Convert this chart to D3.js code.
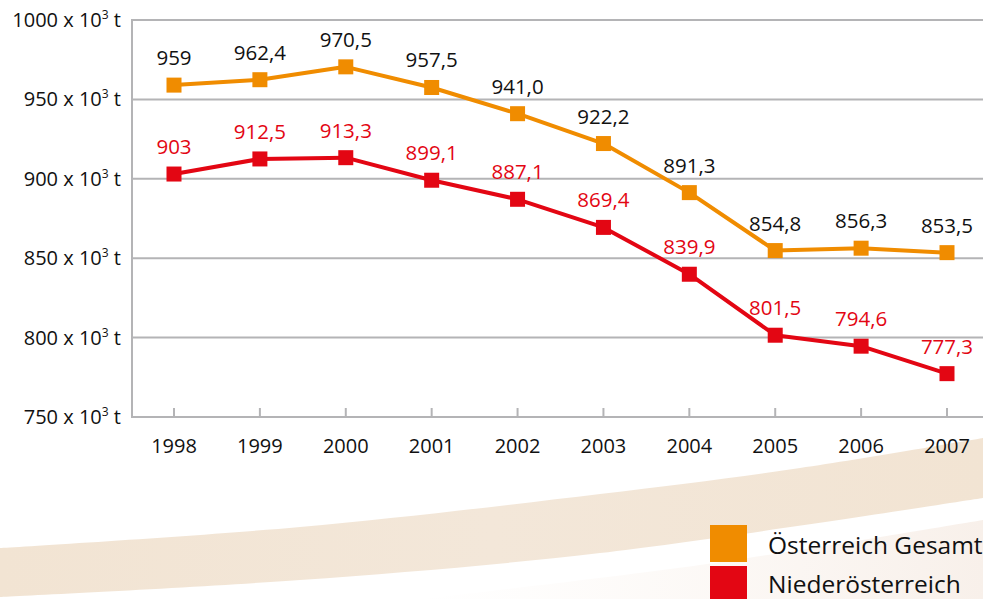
<!DOCTYPE html>
<html><head><meta charset="utf-8">
<script src="https://cdn.jsdelivr.net/npm/d3@7"></script>
<style>
html,body{margin:0;padding:0;background:#fff;}
svg{display:block;font-family:"Open Sans",sans-serif;}
</style></head>
<body>
<svg id="chart" width="983" height="599"></svg>
<script>
const years = ["1998","1999","2000","2001","2002","2003","2004","2005","2006","2007"];
const oesterreich = [959, 962.4, 970.5, 957.5, 941.0, 922.2, 891.3, 854.8, 856.3, 853.5];
const oesterreichLabels = ["959","962,4","970,5","957,5","941,0","922,2","891,3","854,8","856,3","853,5"];
const niederoesterreich = [903, 912.5, 913.3, 899.1, 887.1, 869.4, 839.9, 801.5, 794.6, 777.3];
const niederoesterreichLabels = ["903","912,5","913,3","899,1","887,1","869,4","839,9","801,5","794,6","777,3"];
const yTicks = [750, 800, 850, 900, 950, 1000];
const seriesNames = ["Österreich Gesamt", "Niederösterreich"];
const seriesColors = ["#f08c00", "#e30613"];
const labelColors = ["#111111", "#e30613"];

const svg = d3.select("#chart");
const W = 983, H = 599;

// decorative background bands
const bandTop = [[0,548],[300,527],[600,494],[800,468],[983,438]];
const bandBot = [[983,498],[600,553],[300,580],[0,597]];
const defs = svg.append("defs");
const g1 = defs.append("linearGradient").attr("id","bandGrad").attr("x1","0").attr("x2","1");
g1.append("stop").attr("offset","0").attr("stop-color","#f2e4d3");
g1.append("stop").attr("offset","0.5").attr("stop-color","#f3e7d9");
g1.append("stop").attr("offset","1").attr("stop-color","#f2e4d3");
const g2 = defs.append("linearGradient").attr("id","band2Grad").attr("x1","0").attr("x2","1");
g2.append("stop").attr("offset","0").attr("stop-color","#fbf5f0").attr("stop-opacity",0);
g2.append("stop").attr("offset","1").attr("stop-color","#f8f0ea").attr("stop-opacity",1);
const curve = d3.line().curve(d3.curveCatmullRom);
svg.append("path")
  .attr("d", "M" + curve(bandTop).slice(1) + "L" + curve(bandBot).slice(1) + "Z")
  .attr("fill","url(#bandGrad)");
const band2Top = [[420,599],[700,565],[983,520]];
svg.append("path")
  .attr("d", "M" + curve(band2Top).slice(1) + "L983,599Z")
  .attr("fill","url(#band2Grad)");

// scales
const x = d3.scalePoint().domain(years).range([174, 947]);
const y = d3.scaleLinear().domain([750, 1000]).range([417, 20]);
const plotLeft = 132;

// gridlines
svg.append("g").selectAll("line").data(yTicks).join("line")
  .attr("x1", plotLeft).attr("x2", W)
  .attr("y1", d => y(d)).attr("y2", d => y(d))
  .attr("stroke", "#b4b4b6").attr("stroke-width", 2);
// y axis line
svg.append("line").attr("x1", plotLeft).attr("x2", plotLeft)
  .attr("y1", y(1000)-1).attr("y2", y(750)+1)
  .attr("stroke", "#b4b4b6").attr("stroke-width", 2);
// x ticks
svg.append("g").selectAll("line").data(years).join("line")
  .attr("x1", d => x(d)).attr("x2", d => x(d))
  .attr("y1", y(750)).attr("y2", y(750) - 9)
  .attr("stroke", "#b4b4b6").attr("stroke-width", 2);

// y labels
const yl = svg.append("g").selectAll("text").data(yTicks).join("text")
  .attr("x", 121).attr("y", d => y(d) + 7)
  .attr("text-anchor", "end").attr("font-size", 20).attr("fill", "#111");
yl.append("tspan").text(d => d + " x 10");
yl.append("tspan").attr("font-size", 12).attr("dy", -8).text("3");
yl.append("tspan").attr("dy", 8).text(" t");

// x labels
svg.append("g").selectAll("text").data(years).join("text")
  .attr("x", d => x(d)).attr("y", 453)
  .attr("text-anchor", "middle").attr("font-size", 20).attr("fill", "#111")
  .text(d => d);

// series
const series = [
  {values: oesterreich, labels: oesterreichLabels},
  {values: niederoesterreich, labels: niederoesterreichLabels}
];
const line = d3.line().x((d,i) => x(years[i])).y(d => y(d));
series.forEach((s, k) => {
  svg.append("path").datum(s.values).attr("d", line)
    .attr("fill", "none").attr("stroke", seriesColors[k]).attr("stroke-width", 4)
    .attr("stroke-linejoin", "round");
  svg.append("g").selectAll("rect").data(s.values).join("rect")
    .attr("x", (d,i) => x(years[i]) - 7.5).attr("y", d => y(d) - 7.5)
    .attr("width", 15).attr("height", 15).attr("fill", seriesColors[k]);
  svg.append("g").selectAll("text").data(s.values).join("text")
    .attr("x", (d,i) => x(years[i])).attr("y", d => y(d) - 20)
    .attr("text-anchor", "middle").attr("font-size", 20.5).attr("fill", labelColors[k])
    .text((d,i) => s.labels[i]);
});

// legend
const lg = svg.append("g");
seriesNames.forEach((n, k) => {
  lg.append("rect").attr("x", 710).attr("y", 525 + k*41).attr("width", 37).attr("height", 37)
    .attr("fill", seriesColors[k]);
  lg.append("text").attr("x", 768).attr("y", 554 + k*39).attr("font-size", 24.5)
    .attr("fill", "#111").text(n);
});
</script>
</body></html>
